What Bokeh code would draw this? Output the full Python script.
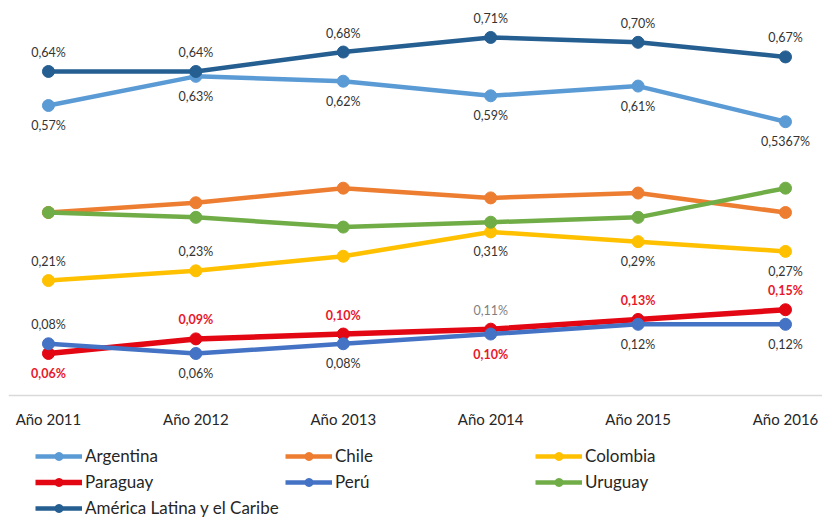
from bokeh.plotting import figure
from bokeh.models import Range1d, FixedTicker, Legend, LegendItem, ColumnDataSource
from bokeh.embed import file_html
from bokeh.resources import INLINE
from bokeh.core.properties import value

# --- data -------------------------------------------------------------
years = ["Año 2011", "Año 2012", "Año 2013", "Año 2014", "Año 2015", "Año 2016"]
argentina = [0.57, 0.63, 0.62, 0.59, 0.61, 0.5367]
chile = [0.35, 0.37, 0.40, 0.38, 0.39, 0.35]
colombia = [0.21, 0.23, 0.26, 0.31, 0.29, 0.27]
paraguay = [0.06, 0.09, 0.10, 0.11, 0.13, 0.15]
peru = [0.08, 0.06, 0.08, 0.10, 0.12, 0.12]
uruguay = [0.35, 0.34, 0.32, 0.33, 0.34, 0.40]
america_latina = [0.64, 0.64, 0.68, 0.71, 0.70, 0.67]

FONT = "Lato"
TEXT_COLOR = "#333333"
BASELINE = -0.0264   # value where the category axis crosses

# name, values, colour, line width, label placement per point, label style per point
series = [
    ("Argentina", argentina, "#5B9BD5", 4.5,
     ["below"] * 6, ["normal"] * 6),
    ("Chile", chile, "#ED7D31", 4.5,
     [None] * 6, ["normal"] * 6),
    ("Colombia", colombia, "#FFC000", 4.5,
     ["above", "above", None, "below", "below", "below"], ["normal"] * 6),
    ("Paraguay", paraguay, "#E30613", 5.5,
     ["below", "above", "above", "above", "above", "above"],
     ["red", "red", "red", "grey", "red", "red"]),
    ("Perú", peru, "#4472C4", 4.5,
     ["above", "below", "below", "below", "below", "below"],
     ["normal", "normal", "normal", "red", "normal", "normal"]),
    ("Uruguay", uruguay, "#70AD47", 4.5,
     [None] * 6, ["normal"] * 6),
    ("América Latina y el Caribe", america_latina, "#255E91", 4.5,
     ["above"] * 6, ["normal"] * 6),
]

STYLE_COLOR = {"normal": TEXT_COLOR, "red": "#E8172B", "grey": "#7F7F7F"}
STYLE_WEIGHT = {"normal": "normal", "red": "bold", "grey": "normal"}
OFFSET = {"above": -19, "below": 20}


def pct(v):
    """Spanish-style percentage with at least two decimals."""
    dec = f"{v:.4f}".rstrip("0").split(".")[1]
    n = max(2, len(dec))
    return f"{v:.{n}f}".replace(".", ",") + "%"


xs = list(range(len(years)))

p = figure(
    width=822, height=518,
    x_range=Range1d(-0.271, 5.251),
    y_range=Range1d(-0.2794, 0.786),
    y_axis_location=None,
    output_backend="svg",
    toolbar_location=None,
    min_border_left=8, min_border_right=0,
    min_border_top=0, min_border_bottom=0,
)
p.grid.visible = False
p.outline_line_color = None
p.background_fill_color = "white"
p.border_fill_color = "white"

# category axis crossing the frame at the baseline value
xa = p.xaxis[0]
xa.fixed_location = BASELINE
xa.ticker = FixedTicker(ticks=xs)
xa.major_label_overrides = {i: y for i, y in enumerate(years)}
xa.axis_line_color = "#D9D9D9"
xa.axis_line_width = 1.5
xa.major_tick_line_color = None
xa.minor_tick_line_color = None
xa.major_label_standoff = 9
xa.major_label_text_font = FONT
xa.major_label_text_font_size = "15px"
xa.major_label_text_color = "#262626"

legend_items = []
lab = dict(x=[], y=[], text=[], dy=[], color=[], weight=[])

for name, vals, color, lw, places, styles in series:
    src = ColumnDataSource(dict(x=xs, y=vals))
    ln = p.line("x", "y", source=src, line_color=color, line_width=lw)
    sc = p.scatter("x", "y", source=src, size=12, fill_color=color,
                   line_color=color, line_width=1)
    legend_items.append(LegendItem(label=name, renderers=[ln, sc]))
    for i, (v, place, st) in enumerate(zip(vals, places, styles)):
        if place is None:
            continue
        lab["x"].append(i)
        lab["y"].append(v)
        lab["text"].append(pct(v))
        lab["dy"].append(OFFSET[place])
        lab["color"].append(STYLE_COLOR[st])
        lab["weight"].append(STYLE_WEIGHT[st])

p.text("x", "y", text="text", source=ColumnDataSource(lab),
       y_offset="dy", text_color="color", text_font_style="weight",
       text_font=value(FONT), text_font_size="12.5px",
       text_align="center", text_baseline="middle")

# legend in the strip under the category labels
legend = Legend(
    items=legend_items,
    orientation="horizontal", ncols=3,
    location=(27, 0),
    margin=0, padding=0, spacing=5,
    glyph_width=47, glyph_height=20,
    label_standoff=3, label_width=195,
    label_text_font=FONT, label_text_font_size="17px",
    label_text_color="#262626",
    border_line_color=None, background_fill_alpha=0,
)
p.add_layout(legend, "center")

open("out.html", "w").write(file_html(p, INLINE))
